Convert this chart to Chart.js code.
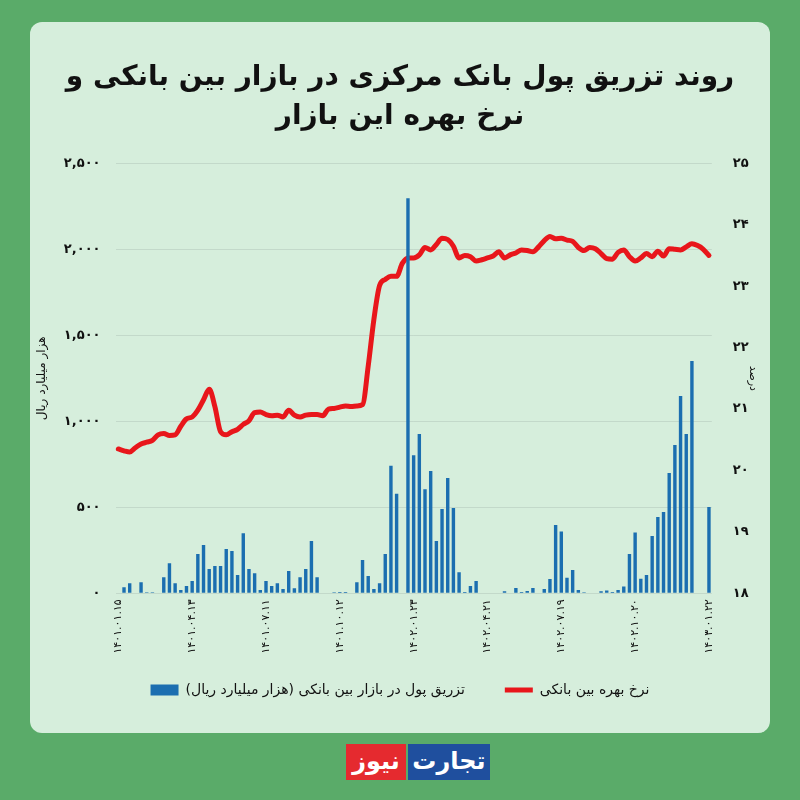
<!DOCTYPE html>
<html>
  <head>
    <meta charset="utf-8" />
    <title>تزریق پول بانک مرکزی</title>
    <script src="https://cdn.jsdelivr.net/npm/chart.js"></script>
    <style>
      body {
        margin: 0;
        width: 800px;
        height: 800px;
        position: relative;
        overflow: hidden;
        background: #5aab69;
        font-family: "DejaVu Sans";
      }
      #card {
        position: absolute;
        left: 30px;
        top: 22px;
        width: 740px;
        height: 711px;
        background: #d6eedc;
        border-radius: 12px;
      }
      #chart {
        position: absolute;
        left: 0;
        top: 0;
      }
      .logo {
        position: absolute;
        top: 744px;
        height: 36px;
        color: #fff;
        font-weight: bold;
        font-size: 24px;
        line-height: 34px;
        text-align: center;
      }
    </style>
  </head>

  <body>
    <div id="card"></div>
    <div class="logo" style="left: 346px; width: 60px; background: #e52a2f">نیوز</div>
    <div class="logo" style="left: 408px; width: 82px; background: #1f4f9e">تجارت</div>
    <canvas id="chart" width="800" height="800"></canvas>

    <script>
      // tarikh-ha (har 13 hafte yek barchasb)
      var tickLabels = [
        "۱۴۰۱.۰۱.۱۵", "۱۴۰۱.۰۴.۱۳", "۱۴۰۱.۰۷.۱۱", "۱۴۰۱.۱۰.۱۲", "۱۴۰۲.۰۱.۲۳",
        "۱۴۰۲.۰۴.۲۱", "۱۴۰۲.۰۷.۱۹", "۱۴۰۲.۱۰.۲۰", "۱۴۰۳.۰۱.۲۲",
      ];

      // tazrigh pool (hezar miliard rial)
      var injection = [
        0, 35, 58, 0, 64, 6, 6, 0, 93, 174, 58, 19, 43,
        72, 229, 281, 141, 159, 159, 258, 246, 107, 349, 141, 116, 19,
        72, 43, 58, 25, 130, 29, 93, 141, 304, 93, 0, 0, 6,
        8, 8, 0, 64, 194, 101, 25, 58, 229, 742, 579, 0, 2297,
        802, 926, 605, 711, 304, 490, 671, 496, 122, 8, 43, 72, 0,
        0, 0, 0, 12, 0, 31, 8, 14, 31, 0, 25, 83, 397,
        359, 91, 136, 19, 6, 0, 0, 12, 16, 8, 19, 39, 229,
        353, 85, 107, 333, 444, 473, 700, 862, 1147, 926, 1351, 0, 0,
        502,
      ];

      // nerkh bahre bein banki (darsad)
      var rate = [
        20.35, 20.32, 20.3, 20.37, 20.43, 20.46, 20.49, 20.58, 20.6, 20.57, 20.58, 20.72, 20.84,
        20.87, 20.98, 21.15, 21.32, 21.04, 20.63, 20.58, 20.63, 20.67, 20.75, 20.81, 20.94, 20.95,
        20.91, 20.89, 20.9, 20.87, 20.98, 20.9, 20.87, 20.9, 20.91, 20.91, 20.89, 21.0, 21.01,
        21.03, 21.05, 21.04, 21.05, 21.07, 21.7, 22.46, 23.01, 23.11, 23.16, 23.16, 23.37, 23.46,
        23.46, 23.51, 23.63, 23.59, 23.68, 23.78, 23.76, 23.65, 23.46, 23.5, 23.48, 23.41, 23.43,
        23.46, 23.49, 23.56, 23.46, 23.51, 23.54, 23.59, 23.58, 23.56, 23.64, 23.74, 23.81, 23.77,
        23.78, 23.75, 23.73, 23.63, 23.58, 23.63, 23.61, 23.53, 23.45, 23.44, 23.55, 23.59, 23.48,
        23.41, 23.46, 23.53, 23.48, 23.57, 23.49, 23.61, 23.6, 23.59, 23.64, 23.69, 23.66, 23.6,
        23.5,
      ];

      var faDigits = "۰۱۲۳۴۵۶۷۸۹";
      function toFa(s) {
        return String(s).replace(/[0-9]/g, (d) => faDigits[d]);
      }

      var categories = rate.map((v, i) => (i % 13 === 0 ? tickLabels[i / 13] : ""));

      // legend ro kami bala mibarim (padding-e ofoghi bozorg ast)
      var liftLegend = {
        id: "liftLegend",
        afterLayout(chart) {
          chart.legend.top -= 20.5;
          chart.legend.bottom -= 20.5;
        },
      };

      Chart.defaults.font.family = "DejaVu Sans";
      Chart.defaults.color = "#111";

      var chart = new Chart(document.getElementById("chart"), {
        data: {
          labels: categories,
          datasets: [
            {
              type: "bar",
              label: "تزریق پول در بازار بین بانکی (هزار میلیارد ریال)",
              data: injection,
              yAxisID: "y",
              backgroundColor: "#1b6eb0",
              barPercentage: 0.6,
              categoryPercentage: 1,
              pointStyle: "rect",
              order: 0,
            },
            {
              type: "line",
              label: "نرخ بهره بین بانکی",
              data: rate,
              yAxisID: "y1",
              borderColor: "#e8161b",
              backgroundColor: "#e8161b",
              borderWidth: 5,
              pointRadius: 0,
              cubicInterpolationMode: "monotone",
              borderCapStyle: "round",
              borderJoinStyle: "round",
              pointStyle: "line",
              order: 1,
            },
          ],
        },
        plugins: [liftLegend],
        options: {
          responsive: false,
          animation: false,
          layout: { padding: { left: 30, right: 30, top: 0, bottom: 72.5 } },
          plugins: {
            title: {
              display: true,
              text: ["روند تزریق پول بانک مرکزی در بازار بین بانکی و", "نرخ بهره این بازار"],
              font: { size: 28, weight: "bold", lineHeight: 1.393 },
              color: "#111",
              padding: { top: 58.5, bottom: 26.8 },
            },
            legend: {
              position: "bottom",
              textDirection: "rtl",
              labels: {
                usePointStyle: true,
                pointStyleWidth: 28,
                boxHeight: 11,
                font: { size: 14 },
                padding: 40,
                color: "#111",
              },
            },
            tooltip: { enabled: false },
          },
          scales: {
            x: {
              grid: { display: false, drawTicks: false },
              border: { display: false },
              ticks: { autoSkip: false, minRotation: 90, maxRotation: 90, padding: 6, font: { size: 11 } },
              afterFit: (s) => {
                s.height = 70.2;
              },
            },
            y: {
              position: "left",
              min: 0,
              max: 2500,
              ticks: {
                stepSize: 500,
                padding: 15,
                font: { size: 13, weight: "bold" },
                callback: (v) => toFa(v.toLocaleString("en-US")),
              },
              grid: { color: "#c3d9ca", drawTicks: false },
              border: { display: false },
              title: { display: true, text: "هزار میلیارد ریال", font: { size: 12 }, padding: { top: 5, bottom: 0 } },
              afterFit: (s) => {
                s.width = 85.5;
              },
            },
            y1: {
              position: "right",
              min: 18,
              max: 25,
              ticks: { stepSize: 1, padding: 21, font: { size: 13, weight: "bold" }, callback: (v) => toFa(v) },
              grid: { display: false, drawTicks: false },
              border: { display: false },
              title: { display: true, text: "درصد", font: { size: 11 }, padding: { top: 11, bottom: 0 } },
              afterFit: (s) => {
                s.width = 58.2;
              },
            },
          },
        },
      });
    </script>
  </body>
</html>
